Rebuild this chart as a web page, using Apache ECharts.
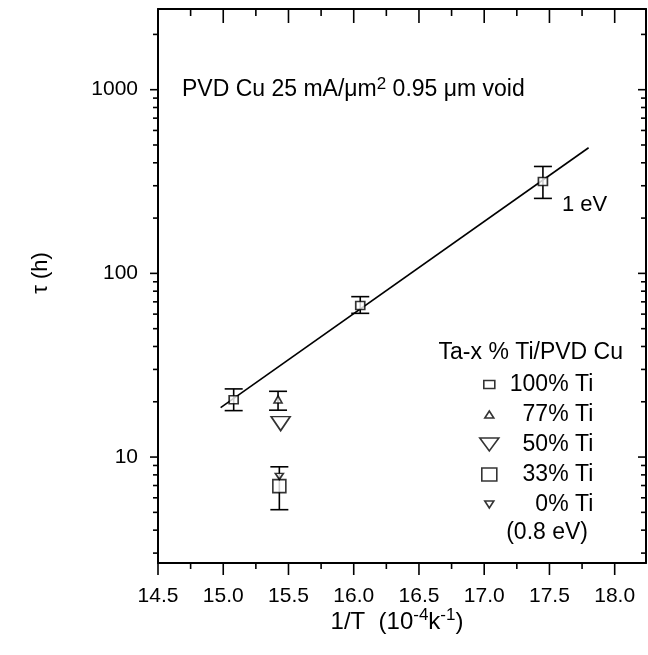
<!DOCTYPE html>
<html>
<head>
<meta charset="utf-8">
<script src="https://cdn.jsdelivr.net/npm/echarts@6/dist/echarts.min.js"></script>
<style>
  html, body { margin: 0; padding: 0; background: #fff; }
  #chart { width: 648px; height: 655px; }
</style>
</head>
<body>
<div id="chart"></div>
<script>
const FONT = '"Liberation Sans", Arial, Helvetica, sans-serif';

// axis ranges: 1/T in 1e-4 K^-1, lifetime tau in hours (log)
const X_MIN = 14.5, X_MAX = 18.24;
const Y_MIN = 2.65, Y_MAX = 2750;

const xMajorTicks = [14.5, 15.0, 15.5, 16.0, 16.5, 17.0, 17.5, 18.0];
const xMinorTicks = [14.75, 15.25, 15.75, 16.25, 16.75, 17.25, 17.75];
const yMajorTicks = [10, 100, 1000];
const yMinorTicks = [3, 4, 5, 6, 7, 8, 9, 20, 30, 40, 50, 60, 70, 80, 90,
                     200, 300, 400, 500, 600, 700, 800, 900, 2000];

// Ta-100% Ti liner
const ti100X   = [15.08, 16.05, 17.45];
const ti100Tau = [20.5, 66.8, 316];
const ti100Lo  = [17.9, 60.6, 256];
const ti100Hi  = [23.5, 74.7, 382];

// Ta-77% Ti
const ti77X = [15.42], ti77Tau = [20.6], ti77Lo = [18.0], ti77Hi = [22.8];
// Ta-50% Ti
const ti50X = [15.44], ti50Tau = [15.2];
// Ta-33% Ti
const ti33X = [15.43], ti33Tau = [6.95], ti33Lo = [5.17], ti33Hi = [8.85];
// Ta (0% Ti)
const ti0X = [15.43], ti0Tau = [7.85];

// Arrhenius fit, Ea = 1 eV
const fitX = [14.98, 17.8];
const fitTau = [18.6, 483];

const seriesNames = ['100% Ti', '77% Ti', '50% Ti', '33% Ti', '0% Ti'];

const zip = (xs, ys) => xs.map((x, i) => [x, ys[i]]);
const zip3 = (xs, a, b) => xs.map((x, i) => [x, a[i], b[i]]);

const markStyle = { color: '#fff', borderColor: '#000', borderWidth: 1.6 };
const ink = { stroke: '#000', lineWidth: 1.6 };

function errorBars(data) {
  return {
    type: 'custom',
    silent: true,
    z: 3,
    encode: { x: 0, y: [1, 2] },
    data: data,
    renderItem(params, api) {
      const x = api.value(0);
      const lo = api.coord([x, api.value(1)]);
      const hi = api.coord([x, api.value(2)]);
      const w = 9;
      return {
        type: 'group',
        children: [
          { type: 'line', shape: { x1: lo[0], y1: lo[1], x2: hi[0], y2: hi[1] }, style: ink },
          { type: 'line', shape: { x1: hi[0] - w, y1: hi[1], x2: hi[0] + w, y2: hi[1] }, style: ink },
          { type: 'line', shape: { x1: lo[0] - w, y1: lo[1], x2: lo[0] + w, y2: lo[1] }, style: ink }
        ]
      };
    }
  };
}

// frame ticks: outward on bottom/left, inward on top/right
const xTickData = xMajorTicks.map(v => [v, Y_MIN, 1]).concat(xMinorTicks.map(v => [v, Y_MIN, 0]));
const yTickData = yMajorTicks.map(v => [X_MIN, v, 1]).concat(yMinorTicks.map(v => [X_MIN, v, 0]));

const xTickSeries = {
  type: 'custom', silent: true, z: 4,
  encode: { x: 0, y: 1 },
  data: xTickData,
  renderItem(params, api) {
    const v = api.value(0), major = api.value(2) === 1;
    const b = api.coord([v, Y_MIN]);
    const t = api.coord([v, Y_MAX]);
    const outLen = major ? 12 : 6, inLen = major ? 14 : 7;
    return {
      type: 'group',
      children: [
        { type: 'line', shape: { x1: b[0], y1: b[1], x2: b[0], y2: b[1] + outLen }, style: ink },
        { type: 'line', shape: { x1: t[0], y1: t[1], x2: t[0], y2: t[1] + inLen }, style: ink }
      ]
    };
  }
};

const yTickSeries = {
  type: 'custom', silent: true, z: 4,
  encode: { x: 0, y: 1 },
  data: yTickData,
  renderItem(params, api) {
    const v = api.value(1), major = api.value(2) === 1;
    const l = api.coord([X_MIN, v]);
    const r = api.coord([X_MAX, v]);
    const len = major ? 8 : 5;
    return {
      type: 'group',
      children: [
        { type: 'line', shape: { x1: l[0] - len, y1: l[1], x2: l[0], y2: l[1] }, style: ink },
        { type: 'line', shape: { x1: r[0] - len, y1: r[1], x2: r[0], y2: r[1] }, style: ink }
      ]
    };
  }
};

function scatter(name, data, symbol, size, rotate) {
  return {
    type: 'scatter', name: name, data: data, z: 6,
    symbol: symbol, symbolSize: size, symbolRotate: rotate || 0,
    itemStyle: markStyle, silent: true
  };
}

// legend swatches, each drawn inside a 20x20 box
const legendIcons = [
  'path://M0 0M20 20M4.5 6L15.5 6L15.5 14L4.5 14Z',
  'path://M0 0M20 20M10 6.5L14.5 13.5L5.5 13.5Z',
  'path://M0 0M20 20M0.5 3.5L19.5 3.5L10 16.5Z',
  'path://M0 0M20 20M2.5 3.5L17.5 3.5L17.5 16.5L2.5 16.5Z',
  'path://M0 0M20 20M5.5 6.5L14.5 6.5L10 13.5Z'
];

const axisLineStyle = { show: true, lineStyle: { color: '#000', width: 2 } };

const chart = echarts.init(document.getElementById('chart'), null, { renderer: 'canvas' });

chart.setOption({
  animation: false,
  backgroundColor: '#fff',
  textStyle: { fontFamily: FONT, color: '#000' },
  grid: { left: 158, right: 2, top: 9, bottom: 92, containLabel: false },
  xAxis: [
    {
      type: 'value', position: 'bottom', min: X_MIN, max: X_MAX, interval: 0.5,
      axisLine: axisLineStyle, axisTick: { show: false }, splitLine: { show: false },
      axisLabel: {
        color: '#000', fontSize: 21, fontFamily: FONT, margin: 23,
        showMaxLabel: false, formatter: v => v.toFixed(1)
      }
    },
    {
      type: 'value', position: 'top', min: X_MIN, max: X_MAX, interval: 0.5,
      axisLine: axisLineStyle, axisTick: { show: false }, axisLabel: { show: false },
      splitLine: { show: false }
    }
  ],
  yAxis: [
    {
      type: 'log', logBase: 10, position: 'left', min: Y_MIN, max: Y_MAX,
      axisLine: axisLineStyle, axisTick: { show: false }, splitLine: { show: false },
      minorTick: { show: false }, minorSplitLine: { show: false },
      axisLabel: {
        color: '#000', fontSize: 21, fontFamily: FONT, margin: 20,
        showMinLabel: false, showMaxLabel: false, formatter: v => String(Math.round(v))
      }
    },
    {
      type: 'log', logBase: 10, position: 'right', min: Y_MIN, max: Y_MAX,
      axisLine: axisLineStyle, axisTick: { show: false }, axisLabel: { show: false },
      splitLine: { show: false }, minorTick: { show: false }
    }
  ],
  legend: {
    orient: 'vertical', left: 473.5, top: 368,
    itemWidth: 20, itemHeight: 20, itemGap: 7,
    selectedMode: false,
    data: seriesNames.map((n, i) => ({
      name: n, icon: legendIcons[i],
      itemStyle: { color: '#fff', borderColor: '#000', borderWidth: 1.6 }
    })),
    formatter: n => '{t|' + n + '}',
    textStyle: {
      rich: { t: { width: 89, align: 'right', fontSize: 23, fontFamily: FONT, color: '#000', lineHeight: 20 } }
    }
  },
  series: [
    xTickSeries,
    yTickSeries,
    {
      type: 'line', name: 'fit', data: zip(fitX, fitTau), showSymbol: false, silent: true,
      lineStyle: { color: '#000', width: 1.6 }, z: 2
    },
    errorBars(zip3(ti100X, ti100Lo, ti100Hi)),
    errorBars(zip3(ti77X, ti77Lo, ti77Hi)),
    errorBars(zip3(ti33X, ti33Lo, ti33Hi)),
    scatter(seriesNames[0], zip(ti100X, ti100Tau), 'rect', [9, 8]),
    scatter(seriesNames[1], zip(ti77X, ti77Tau), 'triangle', [8, 7]),
    scatter(seriesNames[2], zip(ti50X, ti50Tau), 'triangle', [19, 14], 180),
    scatter(seriesNames[3], zip(ti33X, ti33Tau), 'rect', [13, 13]),
    scatter(seriesNames[4], zip(ti0X, ti0Tau), 'triangle', [8, 6], 180)
  ],
  graphic: [
    {
      type: 'text', x: 182, y: 90,
      style: {
        text: '{n|PVD Cu 25 mA/μm}{s|2}{n| 0.95 μm void}',
        fill: '#000', align: 'left', verticalAlign: 'middle',
        rich: {
          n: { fontSize: 23, fontFamily: FONT, lineHeight: 28 },
          s: { fontSize: 17, fontFamily: FONT, lineHeight: 19, verticalAlign: 'top' }
        }
      }
    },
    {
      type: 'text', x: 562, y: 205,
      style: { text: '1 eV', font: '22px ' + FONT, fill: '#000', align: 'left', verticalAlign: 'middle' }
    },
    {
      type: 'text', x: 623, y: 353,
      style: { text: 'Ta-x % Ti/PVD Cu', font: '23px ' + FONT, fill: '#000', align: 'right', verticalAlign: 'middle' }
    },
    {
      type: 'text', x: 588, y: 533,
      style: { text: '(0.8 eV)', font: '23px ' + FONT, fill: '#000', align: 'right', verticalAlign: 'middle' }
    },
    {
      type: 'text', x: 41, y: 273, rotation: Math.PI / 2,
      style: {
        text: 'τ (h)', font: '22px ' + FONT, fill: '#000',
        align: 'center', verticalAlign: 'middle'
      }
    },
    {
      type: 'text', x: 397, y: 622,
      style: {
        text: '{n|1/T  (10}{s|-4}{n|k}{s|-1}{n|)}',
        align: 'center', verticalAlign: 'middle', fill: '#000',
        rich: {
          n: { fontSize: 24, fontFamily: FONT, lineHeight: 30 },
          s: { fontSize: 17, fontFamily: FONT, lineHeight: 17, verticalAlign: 'top' }
        }
      }
    }
  ]
});
</script>
</body>
</html>
